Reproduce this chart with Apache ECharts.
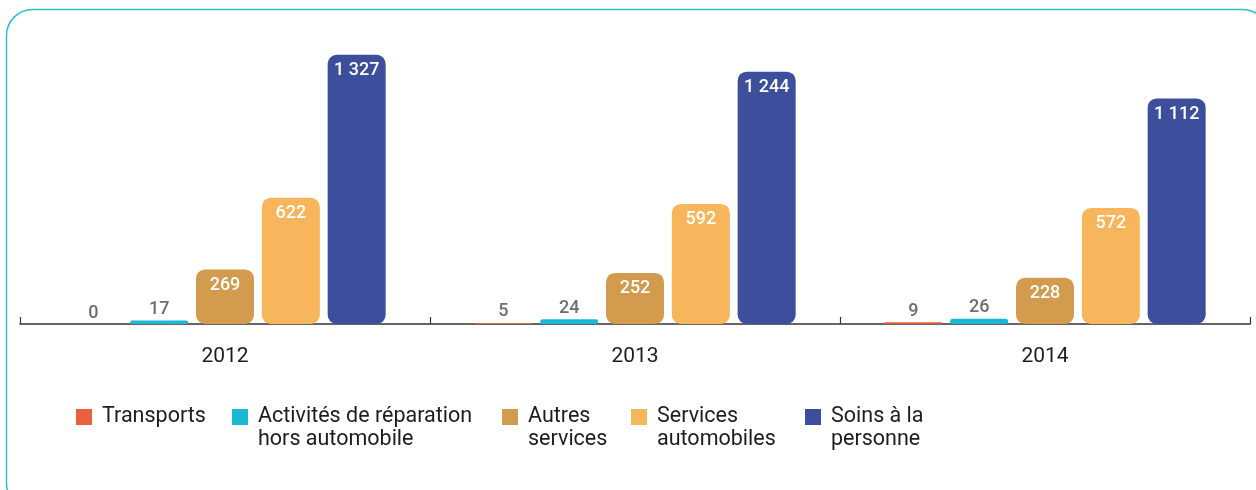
<!DOCTYPE html>
<html>
<head>
<meta charset="utf-8">
<script src="https://cdn.jsdelivr.net/npm/echarts@6/dist/echarts.min.js"></script>
<style>
  html, body { margin: 0; padding: 0; background: #fff; }
  #chart { width: 1256px; height: 490px; }
</style>
</head>
<body>
<div id="chart"></div>
<script>
// Categories (years) and one value array per branch
const years = ['2012', '2013', '2014'];
const transports = [0, 5, 9];
const reparation = [17, 24, 26];
const autresServices = [269, 252, 228];
const servicesAuto = [622, 592, 572];
const soinsPersonne = [1327, 1244, 1112];

const seriesNames = [
  'Transports',
  'Activités de réparation\nhors automobile',
  'Autres\nservices',
  'Services\nautomobiles',
  'Soins à la\npersonne'
];
const seriesData = [transports, reparation, autresServices, servicesAuto, soinsPersonne];
const colors = ['#E8603C', '#1AB8D4', '#D39B4E', '#F7B55C', '#3C4E9C'];
const legendLeft = [76, 232, 502, 631, 805];

const FONT = 'Roboto, "Noto Sans", sans-serif';

// thousands separated by a space, French style
function fmt(v) {
  return String(v).replace(/\B(?=(\d{3})+(?!\d))/g, ' ');
}

const chart = echarts.init(document.getElementById('chart'), null, { renderer: 'canvas' });

const series = seriesNames.map((name, i) => ({
  name: name,
  type: 'bar',
  barWidth: 58,
  barGap: '13.5%',
  itemStyle: { color: colors[i], borderRadius: 9 },
  data: seriesData[i].map(v => {
    const small = v < 100;
    return {
      value: v,
      label: {
        show: true,
        position: small ? 'top' : 'insideTop',
        distance: small ? 2 : 7,
        color: small ? '#6e6e6e' : '#ffffff',
        fontFamily: FONT,
        fontWeight: 500,
        fontSize: 18,
        formatter: p => fmt(p.value)
      }
    };
  })
}));

// one legend block per series so each sits at its own place;
// the leading empty line keeps the first text line level with the swatch
const legends = seriesNames.map((name, i) => {
  const multi = name.indexOf('\n') >= 0;
  return {
    data: [name],
    left: legendLeft[i],
    top: multi ? 382.5 : 405.5,
    padding: 0,
    itemWidth: 16,
    itemHeight: 16,
    icon: 'rect',
    selectedMode: false,
    formatter: n => (n.indexOf('\n') >= 0 ? '\n' + n : n),
    textStyle: {
      fontFamily: FONT,
      fontSize: 21.5,
      lineHeight: 23,
      color: '#1d1d1d',
      padding: [0, 0, 0, 5]
    }
  };
});

chart.setOption({
  animation: false,
  color: colors,
  graphic: [{
    type: 'rect',
    silent: true,
    shape: { x: 6.5, y: 9.5, width: 1262, height: 500, r: 26 },
    style: { fill: 'none', stroke: '#2DBDD5', lineWidth: 1.5 }
  }],
  legend: legends,
  grid: { left: 20, right: 6, top: 40, bottom: 166 },
  xAxis: {
    type: 'category',
    data: years,
    axisLine: { lineStyle: { color: '#333', width: 1.5 } },
    axisTick: { show: true, inside: true, length: 7, lineStyle: { color: '#333', width: 1.2 } },
    axisLabel: {
      margin: 22,
      fontFamily: FONT,
      fontSize: 21,
      color: '#1d1d1d'
    }
  },
  yAxis: {
    type: 'value',
    min: 0,
    max: 1400,
    show: false,
    splitLine: { show: false }
  },
  series: series
});
</script>
</body>
</html>
